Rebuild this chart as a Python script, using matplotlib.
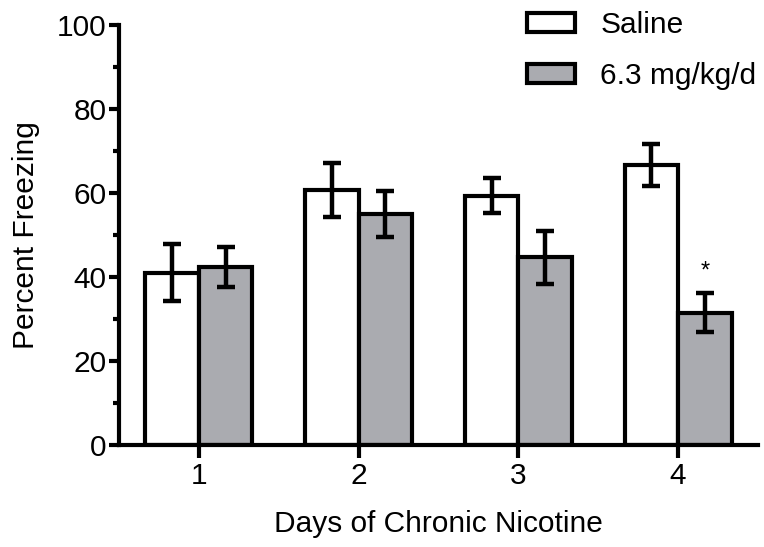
import matplotlib
matplotlib.use("Agg")
import matplotlib.pyplot as plt
from matplotlib.patches import Patch
import numpy as np

plt.rcParams['font.family'] = ['Liberation Sans', 'DejaVu Sans']

days = [1, 2, 3, 4]
saline = [41.0, 60.7, 59.4, 66.7]
saline_sem = [6.8, 6.4, 4.2, 5.0]
nic = [42.4, 55.0, 44.7, 31.5]
nic_sem = [4.7, 5.5, 6.3, 4.6]
labels = ['Saline', '6.3 mg/kg/d']
star_day = 4

gray = '#aaabb0'
lw = 3.0
fs = 21.5

fig = plt.figure(figsize=(7.64, 5.47), dpi=100)
ax = fig.add_axes([119/764, 1-445/547, (758-119)/764, (445-25)/547])

x = np.array(days, dtype=float)
w = 0.335
ax.bar(x - w/2, saline, width=w, color='white', edgecolor='black', linewidth=lw, zorder=2)
ax.bar(x + w/2, nic, width=w, color=gray, edgecolor='black', linewidth=lw, zorder=2)
ax.errorbar(x - w/2, saline, yerr=saline_sem, fmt='none', ecolor='black', elinewidth=3.2,
            capsize=6.5, capthick=3.2, zorder=3)
ax.errorbar(x + w/2, nic, yerr=nic_sem, fmt='none', ecolor='black', elinewidth=3.2,
            capsize=6.5, capthick=3.2, zorder=3)

i = days.index(star_day)
ax.text(x[i] + w/2, nic[i] + nic_sem[i] + 2.5, '*', ha='center', va='bottom', fontsize=17)

ax.set_xlim(0.5, 4.5)
ax.set_ylim(0, 100)
ax.set_xticks(days)
ax.set_xticklabels([str(d) for d in days])
ax.set_yticks(np.arange(0, 101, 20))
ax.set_yticks(np.arange(10, 100, 20), minor=True)

for s in ['top', 'right']:
    ax.spines[s].set_visible(False)
for s in ['left', 'bottom']:
    ax.spines[s].set_linewidth(lw)

ax.tick_params(axis='y', which='major', length=7, width=lw, labelsize=fs, pad=2)
ax.tick_params(axis='y', which='minor', length=4, width=lw)
ax.tick_params(axis='x', which='major', length=9.5, width=lw, labelsize=fs, pad=3)

ax.set_ylabel('Percent Freezing', fontsize=fs, labelpad=12)
ax.set_xlabel('Days of Chronic Nicotine', fontsize=fs, labelpad=14)

handles = [Patch(facecolor='white', edgecolor='black', linewidth=lw),
           Patch(facecolor=gray, edgecolor='black', linewidth=lw)]
fig.legend(handles, labels, loc='upper left', bbox_to_anchor=(527/764, 1-11/547),
           frameon=False, fontsize=fs, handlelength=1.6, handleheight=0.6,
           handletextpad=0.85, labelspacing=0.78, borderpad=0, borderaxespad=0)

fig.savefig('out.png', dpi=100)
